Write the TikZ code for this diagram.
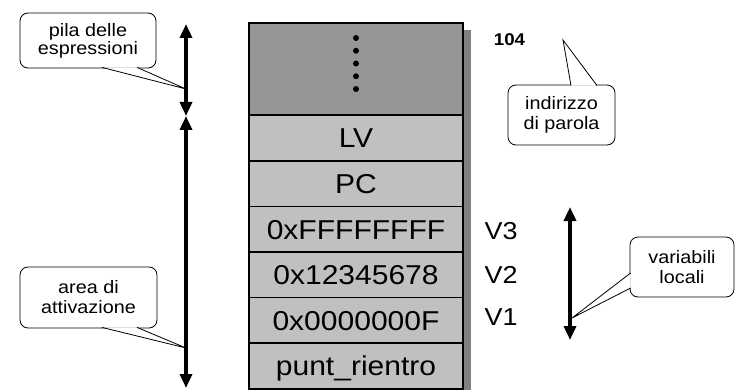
\documentclass[tikz,border=0pt]{standalone}
\usepackage{fontspec}
\setmainfont{Liberation Sans}[FakeStretch=1.1]
\usetikzlibrary{arrows.meta,positioning,backgrounds}
\definecolor{topgray}{HTML}{969696}
\definecolor{cellgray}{HTML}{C0C0C0}
\definecolor{shadowgray}{HTML}{808080}

\begin{document}
\begin{tikzpicture}[
    x=1pt, y=-1pt,
    cell/.style={draw, line width=1.5pt, fill=cellgray, minimum width=214pt,
      minimum height=45.7pt, inner sep=0pt, outer sep=0pt,
      text height=19.5pt, text depth=0pt, font=\fontsize{27.3}{30}\selectfont},
    varname/.style={font=\fontsize{24.5}{28}\selectfont, text height=17.5pt, text depth=0pt, inner sep=0pt},
    bubble/.style={draw, line width=0.8pt, rounded corners=8pt, fill=white, align=center,
      inner sep=0pt, font=\fontsize{18}{20}\selectfont},
    pointer/.style={line width=0.8pt, line join=miter, fill=white},
    span/.style={line width=3.5pt, {Triangle[width=12pt,length=14pt]}-{Triangle[width=12pt,length=14pt]}}
  ]
    \useasboundingbox (0,0) rectangle (735,390);

    %------------------ Stack ------------------%
    \node[cell, fill=topgray, minimum height=92pt] (top) at (356,69) {};
    \node[cell] (lv) at (356,138) {LV};
    \node[cell] (pc) at (356,184) {PC};
    \node[cell] (v3cell) at (356,229.5) {0xFFFFFFFF};
    \node[cell] (v2cell) at (356,275) {0x12345678};
    \node[cell] (v1cell) at (356,320.5) {0x0000000F};
    \node[cell] (punt) at (356,366) {punt\_rientro};

    % shadow
    \begin{scope}[on background layer]
      \fill[shadowgray] ([shift={(8pt,-7pt)}]top.north west) rectangle ([shift={(8pt,-7pt)}]punt.south east);
    \end{scope}

    % dots
    \foreach \y in {38,50.75,63.5,76.25,89}
      \fill (356,\y) circle (3pt);

    % address
    \node[font=\bfseries\fontsize{17}{19}\selectfont] (addr) at (509.5,40) {104};

    % variable names
    \node[varname] (v3) at (501,231) {V3};
    \node[varname] (v2) at (501,275) {V2};
    \node[varname] (v1) at (501,317) {V1};

    %------------------ Arrows ------------------%
    \coordinate (pilatop) at (186,24);
    \coordinate (split) at (186,116);
    \coordinate (attbot) at (186,388);
    \coordinate (vartop) at (570,207);
    \coordinate (varbot) at (570,340);
    \draw[span] (pilatop) -- (split);
    \draw[span] (split) -- (attbot);
    \draw[span] (vartop) -- (varbot);

    %------------------ Callouts ------------------%
    \node[bubble, minimum width=136pt, minimum height=55pt, font=\fontsize{18}{16.5}\selectfont]
      (pila) at (88,40.5) {pila delle\\espressioni};
    \node[bubble, minimum width=137pt, minimum height=61pt] (area) at (88.5,297.5) {area di\\attivazione};
    \node[bubble, minimum width=107pt, minimum height=60pt] (indir) at (561.5,115) {indirizzo\\di parola};
    \node[bubble, minimum width=104pt, minimum height=60pt] (varloc) at (682,267) {variabili\\locali};

    \coordinate (pilatip) at (186,89);
    \coordinate (areatip) at (186,348);
    \coordinate (indirtip) at (563,40);
    \coordinate (varloctip) at (572,318);

    \filldraw[pointer] ([xshift=14pt,yshift=1pt]pila.south) -- (pilatip) -- ([xshift=49pt,yshift=1pt]pila.south);
    \filldraw[pointer] ([xshift=13.5pt,yshift=1pt]area.south) -- (areatip) -- ([xshift=48.5pt,yshift=1pt]area.south);
    \filldraw[pointer] ([xshift=9.5pt,yshift=-1pt]indir.north) -- (indirtip) -- ([xshift=35.5pt,yshift=-1pt]indir.north);
    \filldraw[pointer] ([xshift=1pt,yshift=-6pt]varloc.west) -- (varloctip) -- ([xshift=1pt,yshift=-21pt]varloc.west);

  \end{tikzpicture}
\end{document}
